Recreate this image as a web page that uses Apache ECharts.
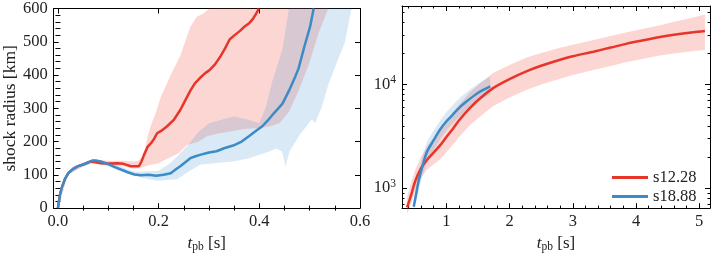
<!DOCTYPE html>
<html><head><meta charset="utf-8">
<script src="https://cdn.jsdelivr.net/npm/echarts@6/dist/echarts.min.js"></script>
<style>html,body{margin:0;padding:0;background:#fff}#c{width:714px;height:258px}</style>
</head><body><div id="c"></div>
<script>
// ---------- DATA ----------
// Left panel: shock radius [km] vs t_pb [s]
const redT  = [0,0.004,0.008,0.014,0.021,0.03,0.04,0.05,0.063,0.075,0.086,0.1,0.119,0.13,0.145,0.161,0.166,0.171,0.178,0.185,0.191,0.197,0.205,0.217,0.23,0.243,0.255,0.263,0.272,0.282,0.292,0.302,0.312,0.322,0.332,0.341,0.351,0.361,0.37,0.38,0.387,0.394,0.399];
const redR  = [0,40,63,88,106,118,126,131,140,138,135,134,135,133,126,126,140,160,184,195,208,225,232,246,265,295,330,353,375,391,405,416,432,454,480,507,520,532,545,556,568,585,600];
const blueT = [0,0.004,0.008,0.014,0.021,0.03,0.04,0.05,0.06,0.068,0.075,0.085,0.099,0.112,0.125,0.14,0.152,0.165,0.18,0.195,0.21,0.224,0.233,0.243,0.253,0.263,0.272,0.282,0.3,0.315,0.33,0.348,0.365,0.38,0.393,0.406,0.416,0.426,0.436,0.446,0.459,0.47,0.478,0.49,0.501,0.508];
const blueR = [0,40,63,88,106,118,126,131,137,143,143,140,133,124,116,107,101,99,100,97,100,105,115,126,138,150,155,160,167,171,180,188,200,217,232,246,262,280,297,314,353,390,420,488,546,600];
// band edges (left)
const redUpT  = [0,0.02,0.05,0.07,0.1,0.13,0.15,0.16,0.165,0.171,0.178,0.185,0.195,0.204,0.224,0.243,0.263,0.276,0.289,0.3];
const redUpR  = [0,110,135,146,142,142,140,142,150,160,215,250,290,333,400,458,545,575,585,600];
const redLoT  = [0,0.02,0.05,0.07,0.1,0.13,0.15,0.165,0.178,0.2,0.217,0.24,0.256,0.28,0.295,0.32,0.348,0.37,0.394,0.42,0.44,0.459,0.478,0.498,0.518,0.537];
const redLoR  = [0,100,126,134,128,126,118,120,128,135,148,165,190,200,215,225,232,238,240,245,255,290,353,430,527,600];
const blueUpT = [0,0.02,0.05,0.07,0.1,0.13,0.15,0.17,0.2,0.224,0.24,0.256,0.28,0.3,0.33,0.35,0.38,0.4,0.413,0.426,0.446,0.459];
const blueUpR = [0,108,133,147,138,122,110,110,112,136,160,185,230,255,268,275,265,255,304,382,478,600];
const blueLoT = [0,0.02,0.05,0.07,0.1,0.132,0.165,0.197,0.237,0.26,0.282,0.31,0.348,0.38,0.4,0.42,0.433,0.445,0.452,0.46,0.48,0.504,0.511,0.524,0.537,0.557,0.57,0.583];
const blueLoR = [0,100,125,138,125,107,92,82,87,110,130,135,140,150,160,170,179,170,125,170,220,266,256,304,371,450,498,600];

// Right panel: log radius vs t_pb [s]
const redT2  = [0.38,0.45,0.51,0.6,0.695,0.8,0.905,1.0,1.1,1.2,1.38,1.55,1.747,2.0,2.275,2.5,2.8,3.0,3.327,3.6,3.855,4.1,4.38,4.6,4.907,5.09];
const redR2  = [650,880,1170,1550,1870,2200,2600,3100,3700,4500,6000,7500,9300,11300,13500,15200,17400,18800,20800,22800,24900,26700,28800,30300,32100,33000];
const redUp2 = [820,1150,1500,2000,2500,3000,3600,4400,5300,6400,8500,10500,13000,15500,18300,20200,22700,24300,27000,29500,32000,34500,37500,40500,44500,47500];
const redLo2 = [560,720,950,1250,1500,1700,1900,2200,2600,3100,4100,5000,6200,7500,8900,10000,11400,12400,13800,15100,16500,17700,19100,20000,21100,21600];
const blueT2  = [0.485,0.52,0.563,0.62,0.695,0.8,0.905,1.0,1.1,1.22,1.35,1.5,1.695];
const blueR2  = [660,850,1170,1600,2240,2900,3700,4400,5100,6100,7100,8300,9600];
const blueUp2 = [780,1050,1450,2000,2800,3600,4500,5400,6300,7500,8700,10200,12000];
const blueLo2 = [580,720,950,1300,1800,2350,3000,3600,4200,5000,5900,6900,8000];

// ticks
const xMajL = [0,0.2,0.4,0.6];
const xMinL = [0.05,0.1,0.15,0.25,0.3,0.35,0.45,0.5,0.55];
const yMajL = [0,100,200,300,400,500,600];
const yMinL = [20,40,60,80,120,140,160,180,220,240,260,280,320,340,360,380,420,440,460,480,520,540,560,580];
const xMajR = [1,2,3,4,5];
const xMinR = [0.4,0.6,0.8,1.2,1.4,1.6,1.8,2.2,2.4,2.6,2.8,3.2,3.4,3.6,3.8,4.2,4.4,4.6,4.8];
const yMajR = [1000,10000];
const yMinR = [700,800,900,2000,3000,4000,5000,6000,7000,8000,9000,20000,30000,40000,50000];

// ---------- CHART ----------
const RED = '#e8352a', BLUE = '#3b8bc6';
const RED_FILL = 'rgba(242,85,70,0.24)', BLUE_FILL = 'rgba(70,145,210,0.2)';
const FONT = 'Liberation Serif';
const FS = 16.5;
const zip = (a,b) => a.map((v,i)=>[v,b[i]]);

function bandPoly(upT, upR, loT, loR){
  return zip(upT, upR).concat(zip(loT, loR).reverse());
}

function bandSeries(pts, fill, xi, yi){
  return {
    type:'custom', xAxisIndex:xi, yAxisIndex:yi, silent:true, z:1,
    data:[pts[0]],
    renderItem:(params, api)=>({
      type:'polygon',
      shape:{points: pts.map(p=>api.coord(p))},
      style:{fill:fill, stroke:null}
    })
  };
}

function axesFor(grid, pos, type, min, max, maj, mnr, label){
  const base = {gridIndex:grid, type:type, min:min, max:max, position:pos,
    splitLine:{show:false}, axisLine:{show:false}};
  const list = [];
  list.push(Object.assign({}, base, {
    axisLine:{show:true, onZero:false, lineStyle:{color:'#000', width:1}},
    axisTick:{show:true, inside:true, length:5, customValues:maj, lineStyle:{color:'#000', width:1}},
    axisLabel: label ? Object.assign({show:true, customValues:maj, color:'#222', fontFamily:FONT, fontSize:FS}, label) : {show:false}
  }));
  list.push(Object.assign({}, base, {
    axisTick:{show:true, inside:true, length:2.5, customValues:mnr, lineStyle:{color:'#000', width:1}},
    axisLabel:{show:false}
  }));
  return list;
}

const xAxes = [], yAxes = [];
const xNameRich = () => ({
  name:'{it|t}{sub|pb} [s]', nameLocation:'middle', nameGap:24,
  nameTextStyle:{fontFamily:FONT, fontSize:17, color:'#222',
    rich:{it:{fontFamily:FONT, fontStyle:'italic', fontSize:17, color:'#222'},
          sub:{fontFamily:FONT, fontSize:11.5, color:'#222', verticalAlign:'bottom', padding:[7,0,0,0]}}}
});
// left grid 0
let xl = axesFor(0,'bottom','value',-0.0085,0.6,xMajL,xMinL,{margin:5, formatter:v=>v.toFixed(1)});
Object.assign(xl[0], xNameRich());
xAxes.push(...xl);
xAxes.push(...axesFor(0,'top','value',-0.0085,0.6,xMajL,xMinL,null));
let yl = axesFor(0,'left','value',0,600,yMajL,yMinL,{margin:6});
Object.assign(yl[0], {name:'shock radius [km]', nameLocation:'middle', nameGap:34,
  nameTextStyle:{fontFamily:FONT, fontSize:17.5, color:'#222'}});
yAxes.push(...yl);
yAxes.push(...axesFor(0,'right','value',0,600,yMajL,yMinL,null));
// right grid 1
let xr = axesFor(1,'bottom','value',0.3,5.17,xMajR,xMinR,{margin:5});
Object.assign(xr[0], xNameRich());
xAxes.push(...xr);
xAxes.push(...axesFor(1,'top','value',0.3,5.17,xMajR,xMinR,null));
let yr = axesFor(1,'left','log',640,57500,yMajR,yMinR,{margin:6,
  formatter:v=>'10{sup|'+Math.round(Math.log10(v))+'}',
  rich:{sup:{fontFamily:FONT, fontSize:11.5, color:'#222', verticalAlign:'top', padding:[0,0,9,0]}}});
yAxes.push(...yr);
yAxes.push(...axesFor(1,'right','log',640,57500,yMajR,yMinR,null));

const series = [
  bandSeries(bandPoly(redUpT,redUpR,redLoT,redLoR), RED_FILL, 0, 0),
  bandSeries(bandPoly(blueUpT,blueUpR,blueLoT,blueLoR), BLUE_FILL, 0, 0),
  bandSeries(bandPoly(redT2,redUp2,redT2,redLo2), RED_FILL, 4, 4),
  bandSeries(bandPoly(blueT2,blueUp2,blueT2,blueLo2), BLUE_FILL, 4, 4),
  {name:'s12.28', type:'line', xAxisIndex:0, yAxisIndex:0, data:zip(redT,redR), showSymbol:false, z:3,
   lineStyle:{color:RED, width:2.5}, itemStyle:{color:RED}},
  {name:'s18.88', type:'line', xAxisIndex:0, yAxisIndex:0, data:zip(blueT,blueR), showSymbol:false, z:3,
   lineStyle:{color:BLUE, width:2.5}, itemStyle:{color:BLUE}},
  {name:'s12.28', type:'line', xAxisIndex:4, yAxisIndex:4, data:zip(redT2,redR2), showSymbol:false, z:3, smooth:0.3,
   lineStyle:{color:RED, width:2.5}, itemStyle:{color:RED}},
  {name:'s18.88', type:'line', xAxisIndex:4, yAxisIndex:4, data:zip(blueT2,blueR2), showSymbol:false, z:3, smooth:0.3,
   lineStyle:{color:BLUE, width:2.5}, itemStyle:{color:BLUE}}
];

const chart = echarts.init(document.getElementById('c'), null, {renderer:'canvas'});
chart.setOption({
  animation:false,
  backgroundColor:'#fff',
  grid:[
    {left:51.5, top:6, width:308.5, height:209, containLabel:false},
    {left:402, top:6, width:308, height:209, containLabel:false}
  ],
  xAxis:xAxes, yAxis:yAxes,
  legend:{data:['s12.28','s18.88'], orient:'vertical', left:607, top:164, itemWidth:36, itemHeight:3,
    icon:'rect', itemGap:2, textStyle:{fontFamily:FONT, fontSize:FS, color:'#222', lineHeight:16}, selectedMode:false},
  series:series
});
</script></body></html>
